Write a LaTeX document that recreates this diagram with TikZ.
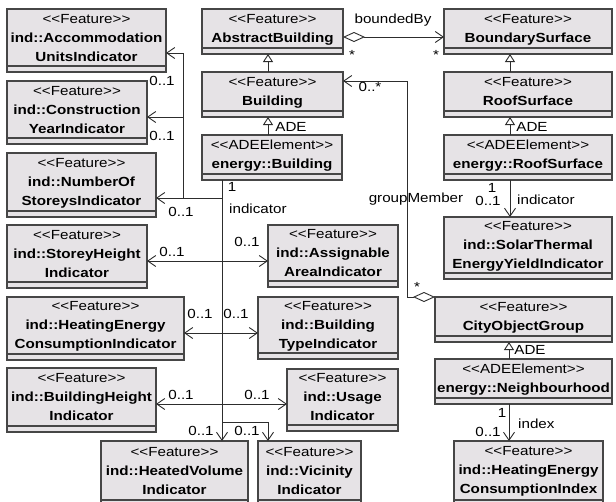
\documentclass[tikz,border=0pt]{standalone}
\usepackage{fontspec}
\setmainfont{Liberation Sans}[FakeStretch=1.15]
\usetikzlibrary{arrows.meta}
\definecolor{boxfill}{RGB}{230,227,230}
\definecolor{boxline}{RGB}{70,70,70}
\definecolor{connc}{RGB}{45,45,45}
\newcommand\st{\rule[-2.5pt]{0pt}{14pt}}
\newcommand\ltlt{<\kern0pt<}
\newcommand\gtgt{>\kern0pt>}
\newcommand\stFeat{\st\ltlt Feature\gtgt}
\newcommand\stADE{\st\ltlt ADEElement\gtgt}
\newcommand\nm[1]{\st\textbf{#1}}
\newcommand\ubox[6]{%
  \node[umlbox, minimum width={(#4)-(#2)}, minimum height={(#5)-(#3)}] (#1) at ({((#2)+(#4))/2},{((#3)+(#5))/2}) {};
  \draw[boxline, line width=1.2pt] ([yshift=6pt]#1.south west) -- ([yshift=6pt]#1.south east);
  \node[boxtext] (#1-t) at ({((#2)+(#4))/2},{((#3)+(#5)-6)/2}) {#6};
}
\begin{document}
\begin{tikzpicture}[x=1pt,y=-1pt,
  umlbox/.style={draw=boxline, fill=boxfill, line width=1.3pt, inner sep=0, outer sep=0},
  boxtext/.style={align=center, font=\fontsize{13.2}{19}\selectfont, inner sep=0},
  lbl/.style={font=\fontsize{13.2}{15}\selectfont, inner sep=0},
  conn/.style={draw=connc, line width=0.9pt},
  nav/.style={conn, -{Straight Barb[length=8pt,width=11pt,line width=0.9pt]}},
  gen/.style={conn, -{Triangle[open,length=8pt,width=10pt,fill=white,line width=0.9pt]}},
  aggr/.style={conn, {Diamond[open,length=22pt,width=10pt,fill=white,line width=0.9pt]}-{Straight Barb[length=8pt,width=11pt,line width=0.9pt]}}
]
\useasboundingbox (0,0) rectangle (616,501);
\fill[white] (0,0) rectangle (616,501);
\clip (0,0) rectangle (616,501);

% boxes
\ubox{AU}{7}{9}{166}{72}{\stFeat\\\nm{ind::Accommodation}\\\nm{UnitsIndicator}}
\ubox{CY}{7}{81}{147}{144}{\stFeat\\\nm{ind::Construction}\\\nm{YearIndicator}}
\ubox{NS}{7}{153}{156}{217}{\stFeat\\\nm{ind::NumberOf}\\\nm{StoreysIndicator}}
\ubox{AB}{202}{9}{343}{54}{\stFeat\\\nm{AbstractBuilding}}
\ubox{B}{202}{72}{343}{117}{\stFeat\\\nm{Building}}
\ubox{EB}{202}{135}{342}{180}{\stADE\\\nm{energy::Building}}
\ubox{BS}{444}{9}{612}{54}{\stFeat\\\nm{BoundarySurface}}
\ubox{RS}{444}{72}{612}{117}{\stFeat\\\nm{RoofSurface}}
\ubox{ERS}{444}{135}{612}{180}{\stADE\\\nm{energy::RoofSurface}}
\ubox{STE}{444}{217}{612}{279}{\stFeat\\\nm{ind::SolarThermal}\\\nm{EnergyYieldIndicator}}
\ubox{SH}{7}{225}{147}{288}{\stFeat\\\nm{ind::StoreyHeight}\\\nm{Indicator}}
\ubox{AA}{268}{225}{398}{287}{\stFeat\\\nm{ind::Assignable}\\\nm{AreaIndicator}}
\ubox{HEC}{7}{297}{184}{360}{\stFeat\\\nm{ind::HeatingEnergy}\\\nm{ConsumptionIndicator}}
\ubox{BT}{258}{297}{398}{359}{\stFeat\\\nm{ind::Building}\\\nm{TypeIndicator}}
\ubox{BH}{7}{368}{156}{432}{\stFeat\\\nm{ind::BuildingHeight}\\\nm{Indicator}}
\ubox{U}{287}{369}{398}{431}{\stFeat\\\nm{ind::Usage}\\\nm{Indicator}}
\ubox{HV}{101}{441}{248}{506}{\stFeat\\\nm{ind::HeatedVolume}\\\nm{Indicator}}
\ubox{VI}{258}{441}{361}{506}{\stFeat\\\nm{ind::Vicinity}\\\nm{Indicator}}
\ubox{COG}{435}{297}{612}{342}{\stFeat\\\nm{CityObjectGroup}}
\ubox{EN}{435}{359}{612}{404}{\stADE\\\nm{energy::Neighbourhood}}
\ubox{HECI}{454}{441}{603}{506}{\stFeat\\\nm{ind::HeatingEnergy}\\\nm{ConsumptionIndex}}

% junction coordinates
\coordinate (t) at ([xshift=-50pt]EB.south);
\coordinate (j1) at (222,422);
\coordinate (j9) at (268,422);
\coordinate (j2) at (222,198);
\coordinate (j3) at (183,198);
\coordinate (j4) at (183,53);
\coordinate (j5) at (183,117);
\coordinate (j6) at (222,261);
\coordinate (j7) at (222,333);
\coordinate (j8) at (222,404);
\coordinate (g1) at (407,297);
\coordinate (g2) at (407,81);

% generalizations
\draw[gen] ([xshift=-4.5pt]B.north) -- ([xshift=-4.5pt]AB.south);
\draw[gen] ([xshift=-4pt]EB.north) -- ([xshift=-4pt]EB.north |- B.south);
\draw[gen] ([xshift=-18pt]RS.north) -- ([xshift=-18pt]BS.south);
\draw[gen] ([xshift=-18pt]ERS.north) -- ([xshift=-18pt]RS.south);
\draw[gen] ([xshift=-14.5pt]EN.north) -- ([xshift=-14.5pt]COG.south);

% aggregations
\draw[aggr] ([yshift=-5.5pt]AB.east) -- ([yshift=-5.5pt]BS.west);
\draw[aggr] (COG.north west) -- (g1) -- (g2) -- (g2 -| B.east);

% indicator associations
\draw[nav] (t) -- (t |- HV.north);
\draw[nav] (j1) -- (j9) -- (j9 |- VI.north);
\draw[nav] (j2) -- (j2 -| NS.east);
\draw[conn] (j3) -- (j4);
\draw[nav] (j4) -- (j4 -| AU.east);
\draw[nav] (j5) -- (j5 -| CY.east);
\draw[nav] (j6) -- (j6 -| SH.east);
\draw[nav] (j6) -- (j6 -| AA.west);
\draw[nav] (j7) -- (j7 -| HEC.east);
\draw[nav] (j7) -- (j7 -| BT.west);
\draw[nav] (j8) -- (j8 -| BH.east);
\draw[nav] (j8) -- (j8 -| U.west);
\draw[nav] ([xshift=-18pt]ERS.south) -- ([xshift=-18pt]ERS.south |- STE.north);
\draw[nav] ([xshift=-14.5pt]EN.south) -- ([xshift=-14.5pt]EN.south |- HECI.north);

% labels
\node[lbl] (l-bb) at (393,20) {boundedBy};
\node[lbl] (l-s1) at (352,55) {*};
\node[lbl] (l-s2) at (436,55) {*};
\node[lbl] (l-ade1) at (291,127) {ADE};
\node[lbl] (l-ade2) at (532,127) {ADE};
\node[lbl] (l-ade3) at (530,350) {ADE};
\node[lbl] (l-0s) at (370,87) {0..*};
\node[lbl] (l-gm) at (416,199) {groupMember};
\node[lbl] (l-s3) at (417,287) {*};
\node[lbl] (l-r1) at (492,188) {1};
\node[lbl] (l-r01) at (488,201) {0..1};
\node[lbl, anchor=west] (l-rind) at (517,200) {indicator};
\node[lbl] (l-n1) at (502,413) {1};
\node[lbl] (l-n01) at (488,432) {0..1};
\node[lbl, anchor=west] (l-nidx) at (518,424) {index};
\node[lbl] (l-b1) at (232,187) {1};
\node[lbl, anchor=west] (l-bind) at (229,209) {indicator};
\node[lbl] (l-au) at (162,81) {0..1};
\node[lbl] (l-cy) at (162,136) {0..1};
\node[lbl] (l-ns) at (181,212) {0..1};
\node[lbl] (l-sh) at (172,252) {0..1};
\node[lbl] (l-aa) at (247,242) {0..1};
\node[lbl] (l-hec) at (200,314) {0..1};
\node[lbl] (l-bt) at (236,314) {0..1};
\node[lbl] (l-bh) at (181,395) {0..1};
\node[lbl] (l-u) at (257,395) {0..1};
\node[lbl] (l-hv) at (201,431) {0..1};
\node[lbl] (l-vi) at (247,431) {0..1};
\end{tikzpicture}
\end{document}
